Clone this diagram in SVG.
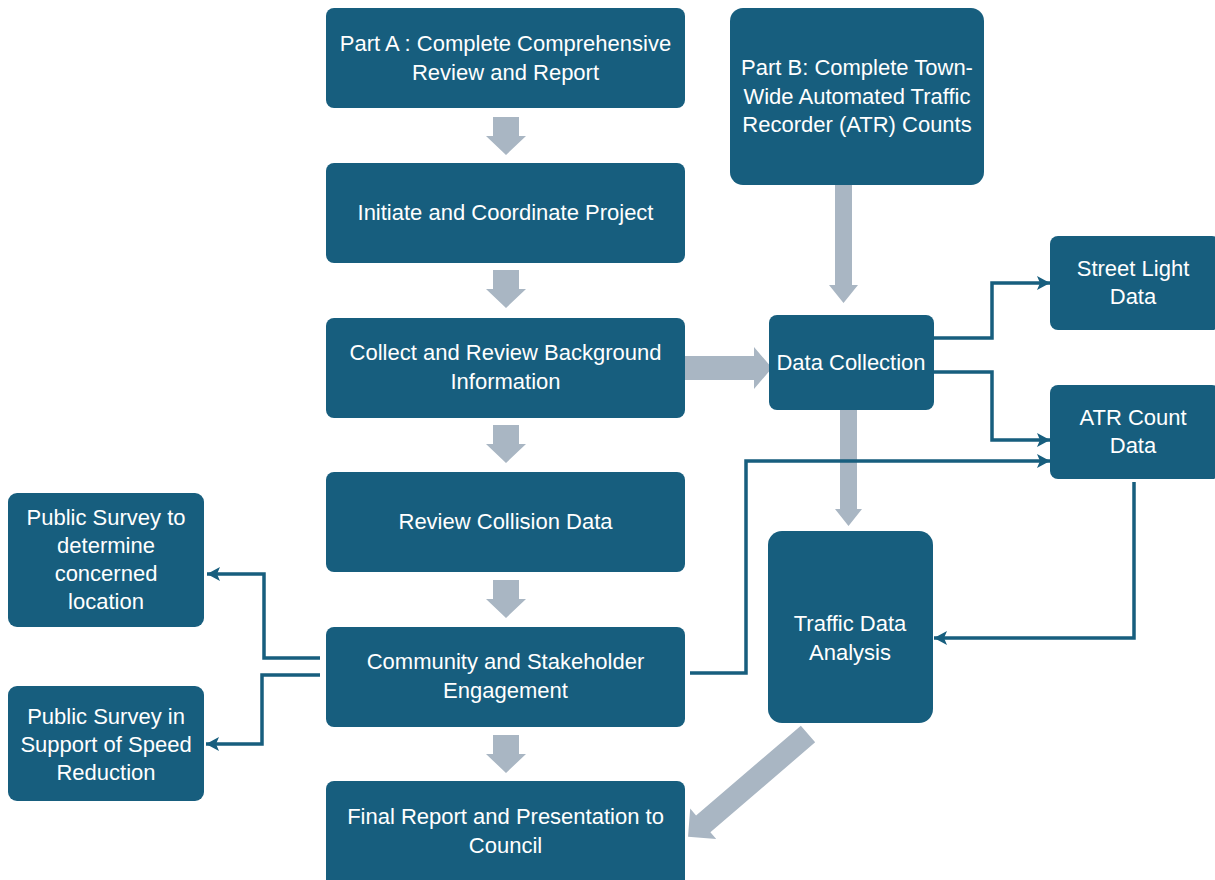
<svg xmlns="http://www.w3.org/2000/svg" width="1215" height="880" viewBox="0 0 1215 880">
  <style>
    .node { fill: #175e7e; }
    .label { fill: #ffffff; font-family: "Liberation Sans", Arial, sans-serif; font-size: 22px; text-anchor: middle; }
    .block { fill: #a9b6c3; }
    .wire { fill: none; stroke: #175e7e; stroke-width: 3.5; marker-end: url(#tip); }
  </style>
  <defs>
    <marker id="tip" markerUnits="userSpaceOnUse" markerWidth="14" markerHeight="16" refX="13" refY="8" orient="auto">
      <path d="M0,1 L13,8 L0,15 L3,8 Z" fill="#175e7e"/>
    </marker>
    <!-- downward block arrow, 38 tall, centred on x=0 -->
    <path id="down" d="M-13,0 H13 V19 H20 L0,38 L-20,19 H-13 Z"/>
  </defs>

  <rect width="1215" height="880" fill="#ffffff"/>

  <!-- block arrows -->
  <g id="block-arrows" class="block">
    <use href="#down" x="506" y="117"/>
    <use href="#down" x="506" y="270"/>
    <use href="#down" x="506" y="425"/>
    <use href="#down" x="506" y="580"/>
    <use href="#down" x="506" y="735"/>
    <path d="M835,185 H852 V285 H858 L843.5,303 L829,285 H835 Z"/>
    <path d="M840,410 H857 V509 H862 L848.5,526 L835,509 H840 Z"/>
    <path d="M685,356 H754 V347 L772,368 L754,389 V380 H685 Z"/>
    <path transform="translate(808,734) rotate(139.4)" d="M0,-11 H138 V-20 L158,0 L138,20 V11 H0 Z"/>
  </g>

  <!-- connectors -->
  <g id="connectors">
    <path class="wire" d="M934,338 H992 V283 H1050"/>
    <path class="wire" d="M934,372 H992 V440 H1050"/>
    <path class="wire" d="M690,673 H746 V461 H1050"/>
    <path class="wire" d="M1134,482 V638 H934"/>
    <path class="wire" d="M320,658 H264 V574 H207"/>
    <path class="wire" d="M320,675 H262 V744 H206"/>
  </g>

  <g id="part-a">
    <rect class="node" x="326" y="8" width="359" height="100" rx="8"/>
    <text class="label" x="505.5" y="51">Part A : Complete Comprehensive</text>
    <text class="label" x="505.5" y="80">Review and Report</text>
  </g>
  <g id="initiate">
    <rect class="node" x="326" y="163" width="359" height="100" rx="8"/>
    <text class="label" x="505.5" y="220">Initiate and Coordinate Project</text>
  </g>
  <g id="collect">
    <rect class="node" x="326" y="318" width="359" height="100" rx="8"/>
    <text class="label" x="505.5" y="360">Collect and Review Background</text>
    <text class="label" x="505.5" y="389">Information</text>
  </g>
  <g id="collision">
    <rect class="node" x="326" y="472" width="359" height="100" rx="8"/>
    <text class="label" x="505.5" y="529">Review Collision Data</text>
  </g>
  <g id="engagement">
    <rect class="node" x="326" y="627" width="359" height="100" rx="8"/>
    <text class="label" x="505.5" y="669">Community and Stakeholder</text>
    <text class="label" x="505.5" y="698">Engagement</text>
  </g>
  <g id="final">
    <rect class="node" x="326" y="781" width="359" height="108" rx="8"/>
    <text class="label" x="505.5" y="824">Final Report and Presentation to</text>
    <text class="label" x="505.5" y="853">Council</text>
  </g>
  <g id="part-b">
    <rect class="node" x="730" y="8" width="254" height="177" rx="13"/>
    <text class="label" x="857" y="75">Part B: Complete Town-</text>
    <text class="label" x="857" y="104">Wide Automated Traffic</text>
    <text class="label" x="857" y="132">Recorder (ATR) Counts</text>
  </g>
  <g id="data-collection">
    <rect class="node" x="769" y="315" width="165" height="95" rx="8"/>
    <text class="label" x="851" y="370">Data Collection</text>
  </g>
  <g id="street-light">
    <rect class="node" x="1050" y="236" width="170" height="94" rx="8"/>
    <text class="label" x="1133" y="276">Street Light</text>
    <text class="label" x="1133" y="304">Data</text>
  </g>
  <g id="atr-count">
    <rect class="node" x="1050" y="385" width="170" height="94" rx="8"/>
    <text class="label" x="1133" y="425">ATR Count</text>
    <text class="label" x="1133" y="453">Data</text>
  </g>
  <g id="traffic-analysis">
    <rect class="node" x="768" y="531" width="165" height="192" rx="14"/>
    <text class="label" x="850" y="631">Traffic Data</text>
    <text class="label" x="850" y="660">Analysis</text>
  </g>
  <g id="survey-location">
    <rect class="node" x="8" y="493" width="196" height="134" rx="9"/>
    <text class="label" x="106" y="525">Public Survey to</text>
    <text class="label" x="106" y="553">determine</text>
    <text class="label" x="106" y="581">concerned</text>
    <text class="label" x="106" y="609">location</text>
  </g>
  <g id="survey-speed">
    <rect class="node" x="8" y="686" width="196" height="115" rx="9"/>
    <text class="label" x="106" y="724">Public Survey in</text>
    <text class="label" x="106" y="752">Support of Speed</text>
    <text class="label" x="106" y="780">Reduction</text>
  </g>
</svg>
